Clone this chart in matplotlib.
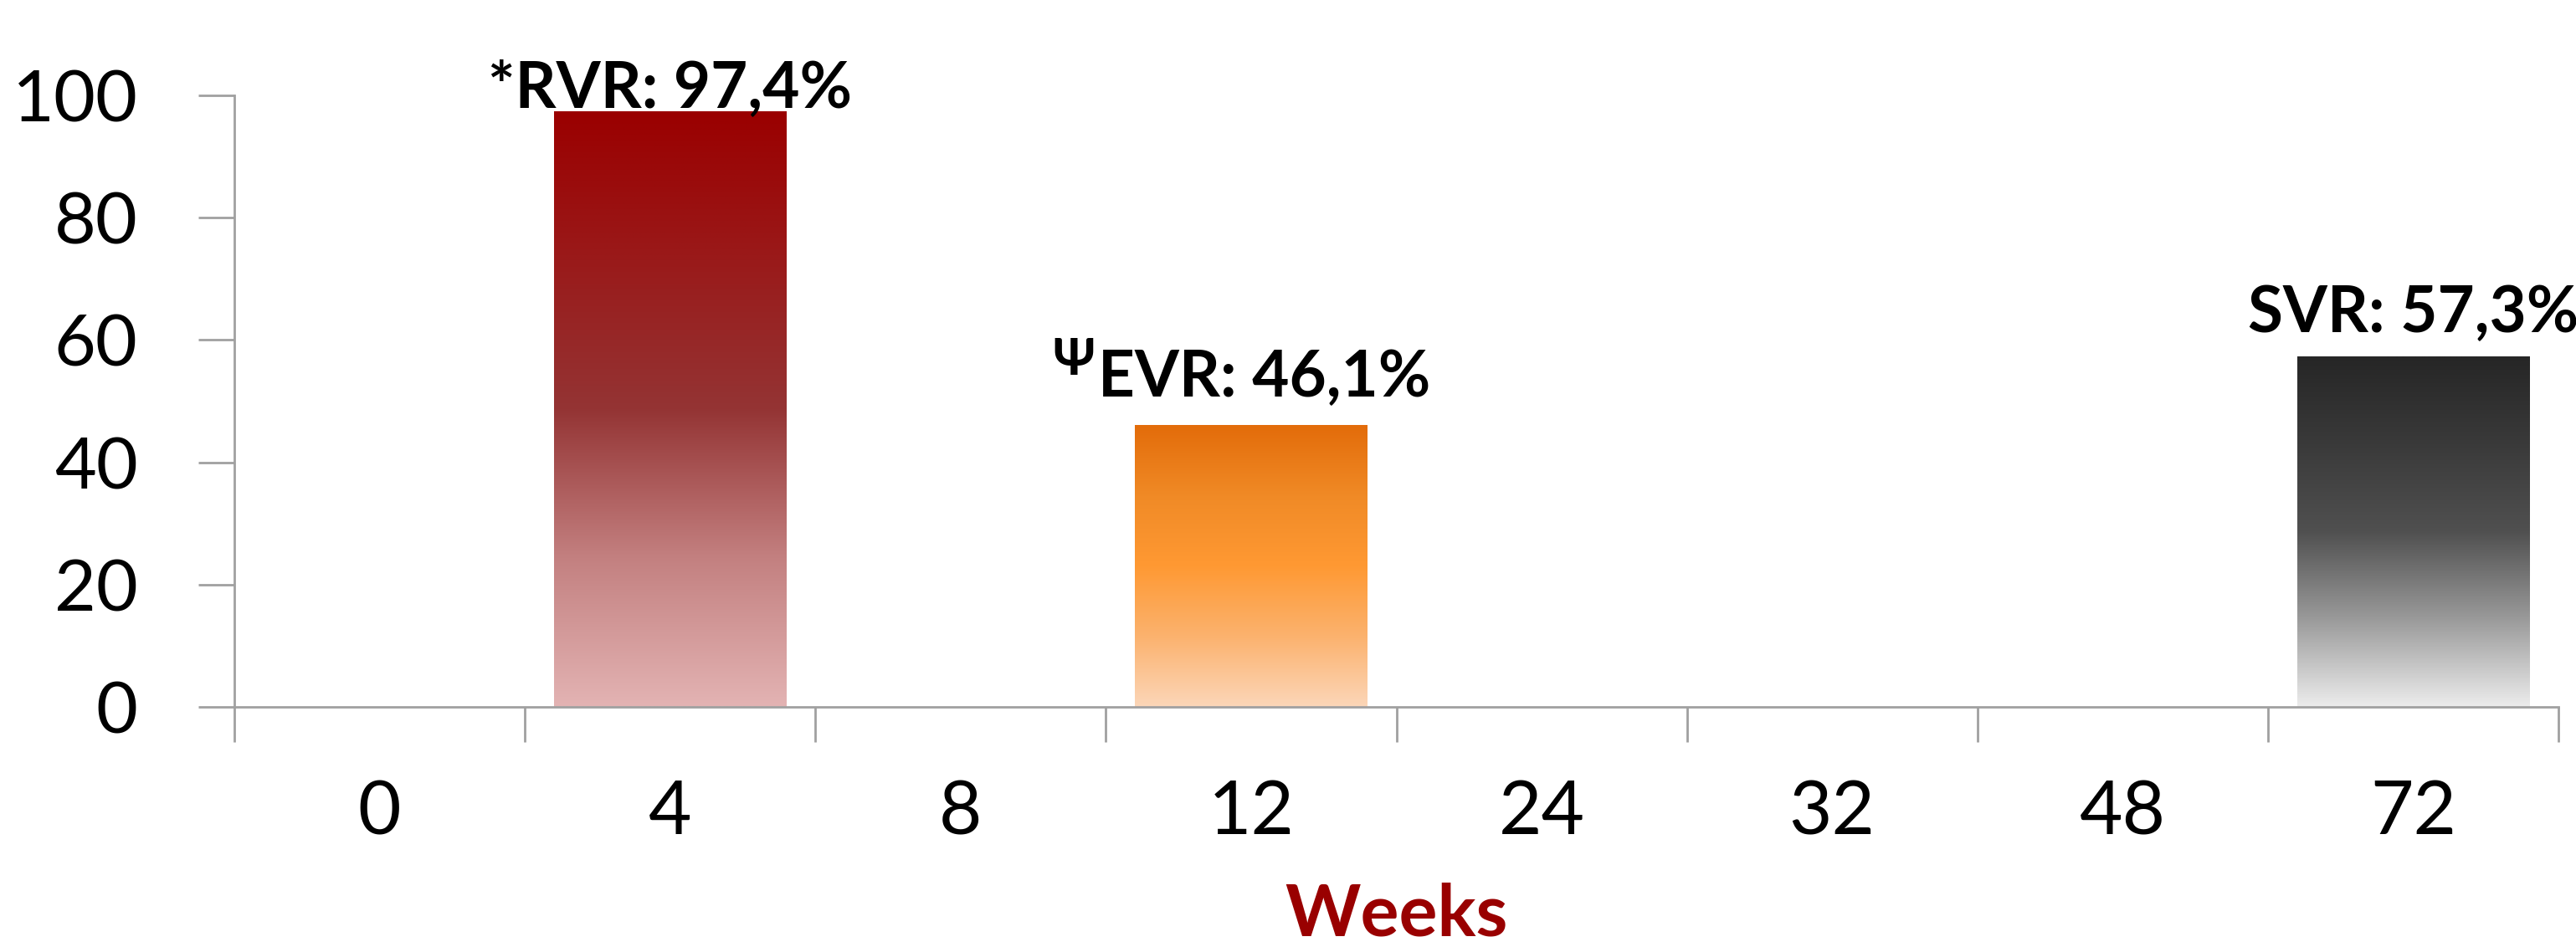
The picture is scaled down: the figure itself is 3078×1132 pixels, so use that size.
import numpy as np
import matplotlib.pyplot as plt
from matplotlib.colors import LinearSegmentedColormap

# data
weeks = ['0', '4', '8', '12', '24', '32', '48', '72']
values = [0, 97.4, 0, 46.1, 0, 0, 0, 57.3]
labels = {1: '*RVR: 97,4%', 3: 'EVR: 46,1%', 7: 'SVR: 57,3%'}
label_offsets = {1: 0.6, 3: 4.6, 7: 4.0}
label_shift = {1: 0.0, 3: 0.045, 7: 0.0}

# gradient stops (top -> bottom)
grads = {
    1: ['#9a0000', '#9a1a1a', '#943434', '#c38080', '#e3b3b3'],
    3: ['#e36c0a', '#f08a26', '#ff9933', '#fbb26e', '#fcd6b8'],
    7: ['#262626', '#3a3a3a', '#505050', '#9a9a9a', '#ececec'],
}

fam = ['Lato', 'DejaVu Sans']
plt.rcParams['font.family'] = fam

fig = plt.figure(figsize=(30.78, 11.32), dpi=100)
ax = fig.add_axes([280 / 3078, 1 - 845 / 1132, (3057 - 280) / 3078, (845 - 114) / 1132])

x = np.arange(len(weeks))
bars = ax.bar(x, values, width=0.8, color='none', edgecolor='none', zorder=2)

for i, b in enumerate(bars):
    if i not in grads:
        continue
    cmap = LinearSegmentedColormap.from_list('g%d' % i, grads[i])
    grad = np.linspace(0, 1, 256).reshape(-1, 1)
    x0 = b.get_x()
    im = ax.imshow(grad, cmap=cmap, aspect='auto', origin='upper',
                   extent=(x0, x0 + b.get_width(), 0, b.get_height()), zorder=2)
    im.set_clip_path(b)
    ax.text(x[i] + label_shift[i], values[i] + label_offsets[i], labels[i], ha='center',
            va='baseline', fontsize=55, fontweight='bold', color='black')

ax.set_xlim(-0.5, len(weeks) - 0.5)
ax.set_ylim(0, 100)
ax.set_yticks([0, 20, 40, 60, 80, 100])
ax.set_xticks(np.arange(len(weeks) + 1) - 0.5, minor=False)
ax.set_xticklabels([''] * (len(weeks) + 1))
ax.set_xticks(x, minor=True)
ax.set_xticklabels(weeks, minor=True)
ax.tick_params(axis='x', which='minor', length=0, pad=62, labelsize=64)
ax.tick_params(axis='x', which='major', length=30, width=2, color='#a0a0a0')
ax.tick_params(axis='y', length=31, width=2, color='#a0a0a0', labelsize=62, pad=52)

for s in ['top', 'right']:
    ax.spines[s].set_visible(False)
for s in ['left', 'bottom']:
    ax.spines[s].set_color('#a0a0a0')
    ax.spines[s].set_linewidth(2)

ax.set_xlabel('Weeks', fontsize=62, fontweight='bold', color='#990000', labelpad=30)

# Psi superscript in front of the EVR label
fig.canvas.draw()
evr = [t for t in ax.texts if t.get_text().startswith('EVR')][0]
bb = evr.get_window_extent()
base_y = ax.transData.transform((0, values[3] + label_offsets[3]))[1]
fig.text((bb.x0 - 4) / 3078, (base_y + 26) / 1132, '\u03a8',
         ha='right', va='baseline', fontsize=44, fontweight='bold', family=fam)

fig.savefig('out.png', dpi=100)
